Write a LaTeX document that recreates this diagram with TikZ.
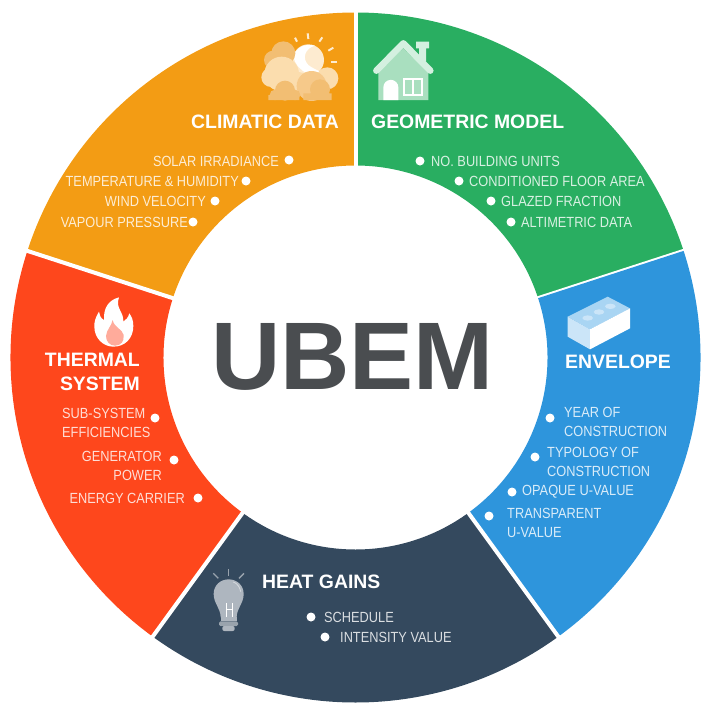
\documentclass[tikz,border=0pt]{standalone}
\usepackage{fontspec}
\setmainfont{Liberation Sans}
\newfontfamily\itemfont[FakeStretch=0.87]{Liberation Sans}
\usetikzlibrary{calc}
\definecolor{climaticorange}{HTML}{F39C14}
\definecolor{geometricgreen}{HTML}{29AE61}
\definecolor{envelopeblue}{HTML}{2E95DC}
\definecolor{heatnavy}{HTML}{34495E}
\definecolor{thermalred}{HTML}{FE471C}
\definecolor{ubemgrey}{HTML}{4A4D50}
\definecolor{cloudlight}{HTML}{FBDDAE}
\definecolor{cloudmid}{HTML}{F6C98A}
\definecolor{clouddark}{HTML}{F2BE73}
\definecolor{suncream}{HTML}{FDEBD0}
\definecolor{houselight}{HTML}{D4F0E0}
\definecolor{housemid}{HTML}{A9DFBF}
\definecolor{bricktop}{HTML}{A9D5F3}
\definecolor{brickleft}{HTML}{CBE5F8}
\definecolor{flamepink}{HTML}{FFAB9B}
\definecolor{bulbgrey}{HTML}{AEB6BF}
\definecolor{bulbbase}{HTML}{99A3AD}
\tikzset{
  titletext/.style={font=\fontsize{19.4}{24}\selectfont\bfseries, text=white, inner sep=0pt, align=right},
  itemtext/.style={font=\itemfont\fontsize{14.7}{19}\selectfont, text=white, text opacity=0.82, inner sep=0pt},
  itemdot/.style={circle, fill=white, inner sep=0pt, minimum size=9pt}
}
\begin{document}
\begin{tikzpicture}[x=1pt,y=1pt]
  \useasboundingbox (0,0) rectangle (712,-718);
  \coordinate (centre) at (355.5,-357.5);
  % Ring sectors
  \foreach \startangle/\sectorcolor in {18/geometricgreen,90/climaticorange,162/thermalred,234/heatnavy,306/envelopeblue}{
    \fill[\sectorcolor] ($(centre)+(\startangle:345)$) arc[start angle=\startangle,end angle=\startangle+72,radius=345]
      -- ($(centre)+(\startangle+72:192)$) arc[start angle=\startangle+72,end angle=\startangle,radius=192] -- cycle;
    \draw[white,line width=4pt] ($(centre)+(\startangle:185)$) -- ($(centre)+(\startangle:350)$);
  }
  % Centre label
  \node[font=\fontsize{96}{96}\selectfont\bfseries,text=ubemgrey,inner sep=0pt] (ubem) at (352.5,-357) {UBEM};

  % Climatic data
  \node[titletext,anchor=east] (climatic) at (339,-122) {CLIMATIC DATA};
  \node[itemtext,anchor=east] (solar) at (279,-161) {SOLAR IRRADIANCE};
  \node[itemdot] (solardot) at (289,-160) {};
  \node[itemtext,anchor=east] (temperature) at (239,-181) {TEMPERATURE \& HUMIDITY};
  \node[itemdot] (temperaturedot) at (246,-181) {};
  \node[itemtext,anchor=east] (wind) at (206,-201) {WIND VELOCITY};
  \node[itemdot] (winddot) at (215,-201) {};
  \node[itemtext,anchor=east] (vapour) at (188,-222) {VAPOUR PRESSURE};
  \node[itemdot] (vapourdot) at (193,-222) {};

  % Geometric model
  \node[titletext,anchor=west] (geometric) at (371,-122) {GEOMETRIC MODEL};
  \node[itemdot] (unitsdot) at (420,-161) {};
  \node[itemtext,anchor=west] (units) at (431,-161) {NO. BUILDING UNITS};
  \node[itemdot] (floordot) at (459,-181) {};
  \node[itemtext,anchor=west] (floor) at (469,-181) {CONDITIONED FLOOR AREA};
  \node[itemdot] (glazeddot) at (491,-201) {};
  \node[itemtext,anchor=west] (glazed) at (501,-201) {GLAZED FRACTION};
  \node[itemdot] (altimetricdot) at (511,-222) {};
  \node[itemtext,anchor=west] (altimetric) at (521,-222) {ALTIMETRIC DATA};

  % Envelope
  \node[titletext,anchor=west] (envelope) at (565,-362) {ENVELOPE};
  \node[itemdot] (yeardot) at (550,-418) {};
  \node[itemtext,anchor=west,align=left] (year) at (564,-422) {YEAR OF\\CONSTRUCTION};
  \node[itemdot] (typologydot) at (535,-457) {};
  \node[itemtext,anchor=west,align=left] (typology) at (547,-462) {TYPOLOGY OF\\CONSTRUCTION};
  \node[itemdot] (opaquedot) at (512,-492) {};
  \node[itemtext,anchor=west] (opaque) at (522,-492) {OPAQUE U-VALUE};
  \node[itemdot] (transparentdot) at (489,-516) {};
  \node[itemtext,anchor=west,align=left] (transparent) at (507,-522.5) {TRANSPARENT\\U-VALUE};

  % Heat gains
  \node[titletext,anchor=west] (heat) at (262,-582) {HEAT GAINS};
  \node[itemdot] (scheduledot) at (311,-617) {};
  \node[itemtext,anchor=west] (schedule) at (324,-617) {SCHEDULE};
  \node[itemdot] (intensitydot) at (325,-637) {};
  \node[itemtext,anchor=west] (intensity) at (340,-637) {INTENSITY VALUE};

  % Thermal system
  \node[titletext,anchor=east] (thermal) at (140,-372) {THERMAL\\SYSTEM};
  \node[itemtext,anchor=west,align=left] (subsystem) at (62,-422.5) {SUB-SYSTEM\\EFFICIENCIES};
  \node[itemdot] (subsystemdot) at (155,-418) {};
  \node[itemtext,anchor=east,align=right] (generator) at (162,-466) {GENERATOR\\POWER};
  \node[itemdot] (generatordot) at (174,-460) {};
  \node[itemtext,anchor=east] (carrier) at (185,-498) {ENERGY CARRIER};
  \node[itemdot] (carrierdot) at (198,-498) {};

  % Cloud icon
  \begin{scope}[xshift=240pt,scale=1/3]
    \foreach \rayfrom/\rayto in {{165,-113}/{171,-125},{203,-100}/{205,-117},{247,-112}/{238,-125},{280,-143}/{265,-152},{290,-187}/{273,-187}}
      \draw[suncream,line width=2pt] (\rayfrom) -- (\rayto);
    \fill[suncream] (205,-180) circle (47);
    \fill[white] (160,-170) .. controls (170,-140) and (195,-130) .. (225,-137) .. controls (195,-145) and (185,-175) .. (205,-195) .. controls (225,-210) and (245,-215) .. (252,-222) .. controls (225,-230) and (175,-225) .. (160,-170) -- cycle;
    \fill[clouddark] (130,-160) circle (36) (100,-180) circle (28);
    \fill[cloudlight] (125,-222) circle (52) (93,-232) circle (29) (175,-250) circle (34);
    \fill[cloudlight] (262,-235) circle (33);
    \fill[cloudmid] (215,-258) circle (45);
    \fill[clouddark] (135,-272) circle (30) (105,-285) circle (16) (165,-285) circle (16) (85,-285) rectangle (178,-300);
    \fill[clouddark] (240,-268) circle (30) (190,-280) rectangle (275,-300);
  \end{scope}

  % House icon
  \begin{scope}[xshift=240pt,scale=1/3]
    \fill[houselight] (528,-125) rectangle (567,-145) (537,-145) rectangle (558,-185);
    \fill[housemid] (415,-215) -- (490,-145) -- (565,-215) -- (565,-300) -- (415,-300) -- cycle;
    \draw[houselight,line width=6.5pt,line cap=round,line join=round] (409,-212) -- (490,-130) -- (571,-212);
    \fill[white] (430,-300) -- (430,-262) arc[start angle=180,end angle=0,radius=22.5] -- (475,-300) -- cycle;
    \draw[white,line width=1.8pt] (492,-237) rectangle (547,-285) (519.5,-237) -- (519.5,-285);
  \end{scope}

  % Brick icon
  \begin{scope}[xshift=470pt,yshift=-240pt,scale=1/3]
    \fill[bricktop] (293,-230) -- (413,-170) -- (480,-205) -- (360,-268) -- cycle;
    \fill[brickleft] (293,-230) -- (360,-268) -- (360,-328) -- (293,-290) -- cycle;
    \fill[white] (360,-268) -- (480,-205) -- (480,-265) -- (360,-328) -- cycle;
    \foreach \holex/\holey in {353/-234,387/-216,421/-199}
      \fill[brickleft] (\holex,\holey) ellipse (16 and 8);
  \end{scope}

  % Flame icon
  \begin{scope}[yshift=-240pt,scale=1/3]
    \fill[white] (357,-172) .. controls (325,-180) and (310,-205) .. (312,-240) .. controls (302,-235) and (298,-225) .. (297,-215) .. controls (285,-235) and (283,-245) .. (283,-260) .. controls (283,-295) and (310,-320) .. (340,-320) .. controls (375,-320) and (400,-295) .. (400,-258) .. controls (400,-240) and (395,-230) .. (388,-220) .. controls (385,-232) and (378,-240) .. (370,-245) .. controls (372,-215) and (345,-205) .. (357,-172) -- cycle;
    \fill[flamepink] (338,-240) .. controls (335,-258) and (320,-268) .. (318,-288) .. controls (318,-305) and (330,-317) .. (345,-317) .. controls (362,-317) and (373,-305) .. (371,-285) .. controls (368,-268) and (342,-262) .. (338,-240) -- cycle;
  \end{scope}

  % Bulb icon
  \begin{scope}[xshift=150pt,yshift=-500pt,scale=1/3]
    \foreach \rayfrom/\rayto in {{190,-220}/{205,-235},{235,-208}/{235,-228},{282,-220}/{267,-235}}
      \draw[bulbbase,line width=1.4pt] (\rayfrom) -- (\rayto);
    \fill[bulbgrey] (212,-352) .. controls (212,-325) and (191,-310) .. (191,-282) .. controls (191,-255) and (212,-238) .. (236,-238) .. controls (260,-238) and (281,-255) .. (281,-282) .. controls (281,-310) and (260,-325) .. (260,-352) -- cycle;
    \draw[white,line width=0.9pt] (228,-310) -- (228,-350) (246,-310) -- (246,-350) (228,-328) -- (246,-328);
    \draw[white,opacity=0.5,line width=0.8pt] (250,-246) .. controls (262,-250) and (270,-262) .. (272,-275);
    \fill[bulbbase,rounded corners=1.5pt] (207,-364) rectangle (264,-378);
    \fill[bulbgrey] (212,-352) rectangle (260,-364);
    \fill[bulbgrey,rounded corners=2pt] (217,-378) rectangle (254,-393);
  \end{scope}
\end{tikzpicture}
\end{document}
